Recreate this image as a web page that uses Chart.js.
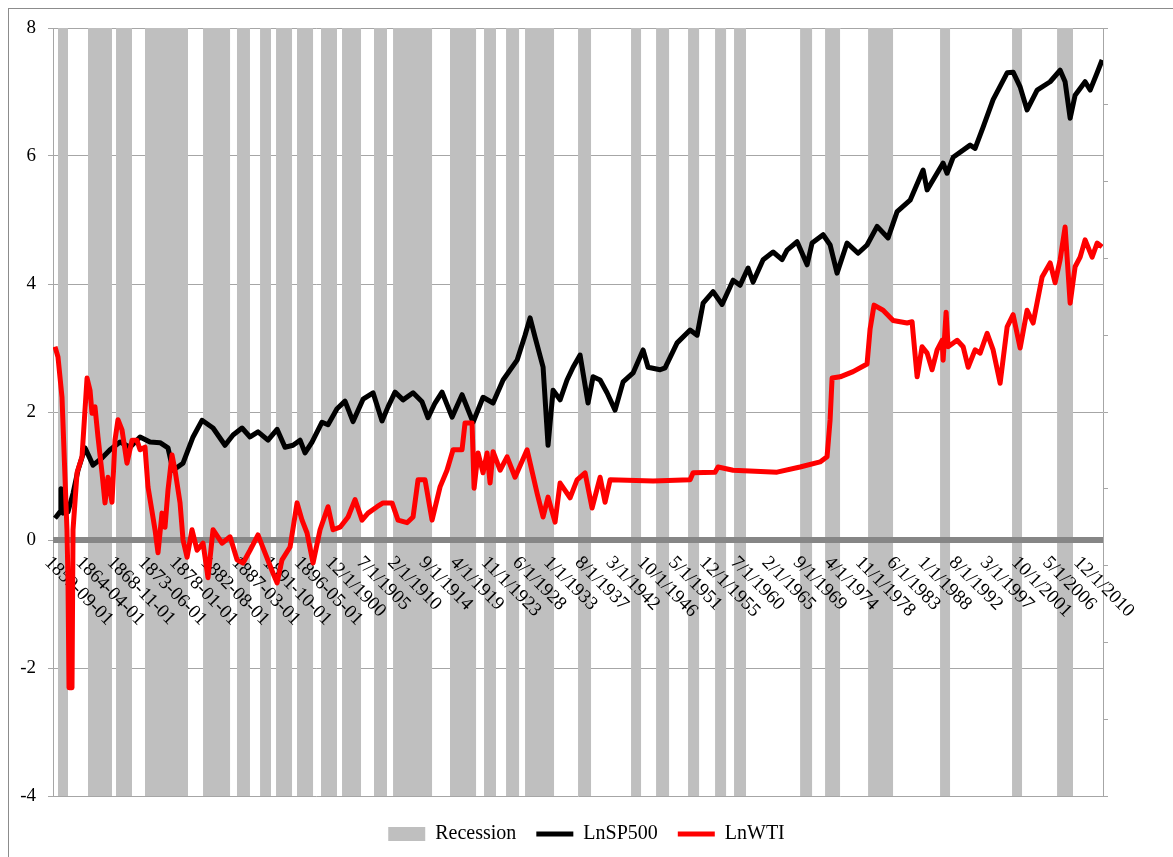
<!DOCTYPE html>
<html>
<head>
<meta charset="utf-8">
<script src="https://cdn.jsdelivr.net/npm/chart.js@4.4.0/dist/chart.umd.min.js"></script>
<style>
  html, body { margin: 0; padding: 0; background: #fff; }
  canvas { display: block; }
</style>
</head>
<body>
<canvas id="chart" width="1173" height="857"></canvas>
<script>
// category labels shown along the zero line (every 55 months)
const xTickLabels = ['1859-09-01', '1864-04-01', '1868-11-01', '1873-06-01', '1878-01-01', '1882-08-01',
    '1887-03-01', '1891-10-01', '1896-05-01', '12/1/1900', '7/1/1905', '2/1/1910', '9/1/1914', '4/1/1919',
    '11/1/1923', '6/1/1928', '1/1/1933', '8/1/1937', '3/1/1942', '10/1/1946', '5/1/1951', '12/1/1955',
    '7/1/1960', '2/1/1965', '9/1/1969', '4/1/1974', '11/1/1978', '6/1/1983', '1/1/1988', '8/1/1992',
    '3/1/1997', '10/1/2001', '5/1/2006', '12/1/2010'];

const xStart = 1859 + 8 / 12;   // Sep 1859
const xEnd = 2014;              // end of Dec 2013

// recession shading (decimal years)
const recessionStart = [1860.40, 1864.81, 1868.93, 1873.19, 1881.72, 1886.71, 1890.10, 1892.45, 1895.53, 1899.06,
    1902.15, 1906.85, 1909.65, 1918.02, 1923.02, 1926.26, 1929.05, 1936.84, 1944.63, 1948.31, 1953.01, 1956.98,
    1959.77, 1969.48, 1973.15, 1979.47, 1990.05, 2000.63, 2007.25];
const recessionEnd = [1861.87, 1868.34, 1871.28, 1879.51, 1885.69, 1888.62, 1891.71, 1894.80, 1897.89, 1901.41,
    1904.94, 1908.76, 1915.38, 1921.85, 1924.78, 1928.17, 1933.31, 1938.75, 1946.10, 1950.22, 1954.63, 1958.60,
    1961.53, 1971.24, 1975.35, 1983.14, 1991.52, 2002.10, 2009.60];

// ln S&P 500
const spYears = [1859.96, 1860.70, 1860.84, 1861.14, 1861.87, 1862.61, 1863.34, 1864.37, 1865.55, 1866.87,
    1868.05, 1869.52, 1870.99, 1872.46, 1873.93, 1875.40, 1876.57, 1877.31, 1878.78, 1880.25,
    1881.57, 1883.19, 1884.95, 1886.13, 1887.45, 1888.63, 1889.80, 1891.27, 1892.60, 1893.77,
    1894.95, 1895.98, 1896.71, 1897.74, 1899.21, 1900.09, 1901.41, 1902.59, 1903.77, 1905.24,
    1906.71, 1908.03, 1908.91, 1909.94, 1911.12, 1912.59, 1913.91, 1914.79, 1915.82, 1916.85,
    1918.32, 1919.79, 1921.41, 1922.88, 1924.35, 1925.82, 1927.88, 1929.05, 1929.79, 1930.52,
    1931.70, 1932.43, 1933.17, 1934.20, 1935.22, 1936.11, 1937.14, 1938.31, 1939.05, 1940.08,
    1941.10, 1942.28, 1943.46, 1944.93, 1946.40, 1947.13, 1948.90, 1949.63, 1951.40, 1953.31,
    1954.34, 1955.22, 1956.69, 1958.01, 1959.63, 1960.66, 1961.83, 1962.57, 1964.04, 1965.51,
    1966.83, 1967.56, 1969.04, 1970.51, 1971.24, 1972.86, 1973.89, 1974.91, 1976.38, 1978.00,
    1979.32, 1980.80, 1982.41, 1983.74, 1985.65, 1987.56, 1988.15, 1990.50, 1991.08, 1991.97,
    1994.47, 1995.20, 1996.38, 1997.85, 1999.91, 2000.79, 2001.82, 2002.84, 2004.32, 2006.23,
    2007.70, 2008.43, 2009.17, 2009.90, 2011.37, 2012.11, 2013.14, 2013.87];
const spValues = [0.34, 0.44, 0.80, 0.42, 0.44, 0.73, 1.09, 1.44, 1.17, 1.28,
    1.41, 1.53, 1.45, 1.61, 1.53, 1.52, 1.44, 1.09, 1.20, 1.61,
    1.87, 1.75, 1.48, 1.64, 1.75, 1.61, 1.69, 1.56, 1.73, 1.45,
    1.48, 1.56, 1.36, 1.53, 1.84, 1.80, 2.05, 2.17, 1.85, 2.20,
    2.30, 1.86, 2.08, 2.31, 2.19, 2.30, 2.16, 1.91, 2.14, 2.31,
    1.92, 2.27, 1.84, 2.23, 2.14, 2.50, 2.81, 3.20, 3.47, 3.17,
    2.70, 1.48, 2.34, 2.19, 2.50, 2.70, 2.89, 2.14, 2.55, 2.50,
    2.30, 2.03, 2.47, 2.61, 2.97, 2.70, 2.66, 2.69, 3.08, 3.28,
    3.20, 3.70, 3.88, 3.68, 4.06, 3.98, 4.25, 4.03, 4.38, 4.50,
    4.38, 4.53, 4.66, 4.30, 4.64, 4.77, 4.61, 4.17, 4.64, 4.48,
    4.61, 4.90, 4.72, 5.13, 5.31, 5.78, 5.47, 5.89, 5.73, 5.98,
    6.17, 6.12, 6.45, 6.88, 7.30, 7.31, 7.08, 6.72, 7.03, 7.16,
    7.34, 7.16, 6.59, 6.95, 7.16, 7.03, 7.30, 7.50];

// ln WTI
const wtiYears = [1859.96, 1860.40, 1860.99, 1861.72, 1861.87, 1862.02, 1862.46, 1862.61, 1863.20, 1863.93,
    1864.67, 1865.11, 1865.40, 1865.84, 1866.28, 1866.87, 1867.31, 1867.75, 1868.34, 1868.78,
    1869.22, 1869.81, 1870.54, 1871.28, 1872.01, 1872.46, 1873.19, 1873.63, 1874.66, 1875.10,
    1875.69, 1876.13, 1876.57, 1877.16, 1877.60, 1878.34, 1878.78, 1879.37, 1880.10, 1880.84,
    1881.72, 1882.45, 1883.19, 1884.51, 1885.69, 1886.72, 1887.60, 1888.63, 1889.80, 1890.83,
    1892.01, 1892.60, 1893.33, 1894.51, 1895.54, 1896.27, 1897.01, 1897.89, 1898.92, 1900.09,
    1900.83, 1901.86, 1903.04, 1904.06, 1905.09, 1905.97, 1907.30, 1908.18, 1909.50, 1910.38,
    1911.70, 1912.59, 1913.32, 1914.35, 1915.38, 1916.56, 1917.58, 1918.47, 1919.79, 1920.23,
    1921.26, 1921.56, 1922.14, 1922.88, 1923.47, 1923.91, 1924.35, 1925.38, 1926.41, 1927.58,
    1929.35, 1930.82, 1931.70, 1932.43, 1933.46, 1934.20, 1935.67, 1936.70, 1937.87, 1938.90,
    1940.08, 1940.81, 1941.55, 1947.87, 1953.31, 1953.75, 1956.98, 1957.42, 1959.63, 1966.09,
    1969.47, 1972.42, 1973.44, 1973.89, 1974.18, 1975.36, 1977.27, 1979.32, 1979.77, 1980.35,
    1981.68, 1983.15, 1985.21, 1985.94, 1986.09, 1986.68, 1987.41, 1988.15, 1988.88, 1989.62,
    1990.35, 1990.50, 1990.94, 1991.23, 1992.56, 1993.44, 1994.18, 1995.20, 1995.94, 1996.97,
    1997.85, 1998.88, 1999.91, 2000.79, 2001.82, 2002.84, 2003.73, 2005.05, 2006.23, 2006.96,
    2007.70, 2008.43, 2009.17, 2009.90, 2010.64, 2011.37, 2012.40, 2013.14, 2013.87];
const wtiValues = [3.02, 2.86, 2.23, 0.16, -0.63, -2.31, -2.31, 0.16, 1.05, 1.30,
    2.53, 2.34, 1.98, 2.08, 1.61, 1.05, 0.58, 0.98, 0.59, 1.56,
    1.88, 1.72, 1.20, 1.56, 1.56, 1.41, 1.45, 0.83, 0.16, -0.20,
    0.42, 0.20, 0.78, 1.33, 1.09, 0.58, 0.00, -0.27, 0.16, -0.16,
    -0.05, -0.59, 0.16, -0.05, 0.05, -0.31, -0.36, -0.16, 0.08, -0.20,
    -0.52, -0.67, -0.31, -0.11, 0.58, 0.31, 0.11, -0.36, 0.16, 0.52,
    0.16, 0.20, 0.36, 0.63, 0.31, 0.42, 0.52, 0.58, 0.58, 0.31,
    0.27, 0.36, 0.94, 0.94, 0.31, 0.83, 1.09, 1.41, 1.41, 1.83,
    1.83, 0.81, 1.36, 1.05, 1.36, 0.89, 1.38, 1.09, 1.30, 0.98,
    1.41, 0.73, 0.36, 0.67, 0.28, 0.89, 0.66, 0.94, 1.05, 0.50,
    0.98, 0.59, 0.94, 0.92, 0.94, 1.05, 1.06, 1.14, 1.09, 1.06,
    1.14, 1.22, 1.30, 1.88, 2.53, 2.55, 2.63, 2.75, 3.30, 3.67,
    3.59, 3.43, 3.39, 3.41, 3.23, 2.55, 3.02, 2.92, 2.66, 2.97,
    3.12, 2.81, 3.56, 3.02, 3.12, 3.02, 2.70, 2.97, 2.92, 3.23,
    2.97, 2.45, 3.33, 3.52, 3.00, 3.59, 3.39, 4.11, 4.33, 4.02,
    4.38, 4.89, 3.70, 4.27, 4.42, 4.69, 4.42, 4.64, 4.58];

const yMin = -4, yMax = 8, yStep = 2;

const serif = '"Liberation Serif", "Times New Roman", Times, "DejaVu Serif", serif';
const gridGray = '#a6a6a6';

// turn recession periods into a 0/1 step outline on the secondary axis
const recessionPoints = [];
recessionStart.forEach((s, i) => {
    const e = recessionEnd[i];
    recessionPoints.push({ x: s, y: 0 }, { x: s, y: 1 }, { x: e, y: 1 }, { x: e, y: 0 });
});

function labelYear(s) {
    let y, m;
    if (s.indexOf('-') > 0) {
        const p = s.split('-');
        y = +p[0]; m = +p[1];
    } else {
        const p = s.split('/');
        m = +p[0]; y = +p[2];
    }
    return y + (m - 1) / 12 + 1 / 24;
}

const frame = {
    id: 'frame',
    beforeDraw(chart) {
        const ctx = chart.ctx;
        ctx.save();
        ctx.fillStyle = '#fff';
        ctx.fillRect(0, 0, chart.width, chart.height);
        ctx.strokeStyle = '#8c8c8c';
        ctx.lineWidth = 1;
        ctx.strokeRect(8.5, 8.5, chart.width + 20, chart.height + 20);
        ctx.restore();
    }
};

// zero axis line and rotated date labels, drawn above the shading but under the lines
const zeroAxis = {
    id: 'zeroAxis',
    afterDatasetDraw(chart, args) {
        if (args.index !== 0) return;
        const { ctx, chartArea } = chart;
        const xs = chart.scales.x;
        const y0 = chart.scales.y.getPixelForValue(0);
        ctx.save();
        ctx.strokeStyle = '#868686';
        ctx.lineWidth = 6;
        ctx.beginPath();
        ctx.moveTo(chartArea.left, y0);
        ctx.lineTo(chartArea.right, y0);
        ctx.stroke();

        ctx.font = '19px ' + serif;
        ctx.fillStyle = '#000';
        ctx.textAlign = 'left';
        ctx.textBaseline = 'top';
        xTickLabels.forEach(t => {
            const px = xs.getPixelForValue(labelYear(t));
            ctx.save();
            ctx.translate(px + 1, y0 + 13);
            ctx.rotate(Math.PI / 4);
            ctx.fillText(t, 0, 0);
            ctx.restore();
        });
        ctx.restore();
    }
};

Chart.defaults.font.family = serif;

new Chart(document.getElementById('chart'), {
    type: 'line',
    data: {
        datasets: [
            {
                label: 'Recession',
                data: recessionPoints,
                yAxisID: 'y2',
                borderWidth: 0,
                borderColor: 'rgba(0,0,0,0)',
                backgroundColor: '#bfbfbf',
                fill: 'origin',
                pointRadius: 0,
                pointHoverRadius: 0,
                pointStyle: 'rect',
                tension: 0,
                order: 2
            },
            {
                label: 'LnSP500',
                data: spYears.map((x, i) => ({ x: x, y: spValues[i] })),
                yAxisID: 'y',
                borderColor: '#000',
                backgroundColor: '#000',
                borderWidth: 5,
                borderJoinStyle: 'round',
                pointRadius: 0,
                pointHoverRadius: 0,
                pointStyle: 'line',
                tension: 0,
                fill: false,
                order: 1
            },
            {
                label: 'LnWTI',
                data: wtiYears.map((x, i) => ({ x: x, y: wtiValues[i] })),
                yAxisID: 'y',
                borderColor: '#ff0000',
                backgroundColor: '#ff0000',
                borderWidth: 5,
                borderJoinStyle: 'round',
                pointRadius: 0,
                pointHoverRadius: 0,
                pointStyle: 'line',
                tension: 0,
                fill: false,
                order: 0
            }
        ]
    },
    options: {
        responsive: false,
        animation: false,
        layout: {
            padding: { top: 28, left: 0, right: 0, bottom: 3 }
        },
        plugins: {
            legend: {
                position: 'bottom',
                labels: {
                    usePointStyle: true,
                    pointStyleWidth: 37,
                    boxHeight: 14,
                    padding: 20,
                    color: '#000',
                    font: { family: serif, size: 20 },
                    sort: (a, b) => a.datasetIndex - b.datasetIndex
                }
            },
            tooltip: { enabled: false }
        },
        scales: {
            x: {
                type: 'linear',
                min: xStart,
                max: xEnd,
                grid: { display: false },
                border: { display: false },
                ticks: { display: false },
                afterFit: (s) => { s.height = 8; }
            },
            y: {
                position: 'left',
                min: yMin,
                max: yMax,
                ticks: {
                    stepSize: yStep,
                    color: '#000',
                    padding: 12,
                    font: { family: serif, size: 19 }
                },
                grid: {
                    color: gridGray,
                    lineWidth: 1,
                    tickLength: 5,
                    tickColor: gridGray
                },
                border: { display: true, color: gridGray, width: 1 },
                afterFit: (s) => { s.width = 53; }
            },
            y2: {
                position: 'right',
                min: 0,
                max: 1,
                ticks: { display: false, stepSize: 0.1 },
                grid: {
                    drawOnChartArea: false,
                    color: gridGray,
                    tickLength: 5,
                    tickColor: gridGray
                },
                border: { display: true, color: gridGray, width: 1 },
                afterFit: (s) => { s.width = 70; }
            }
        }
    },
    plugins: [frame, zeroAxis]
});
</script>
</body>
</html>
